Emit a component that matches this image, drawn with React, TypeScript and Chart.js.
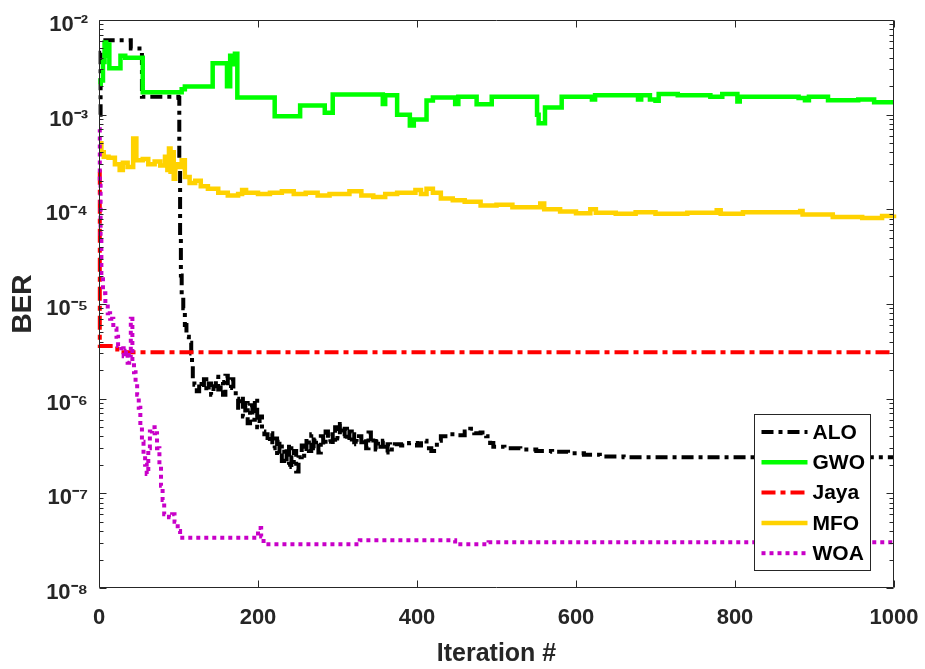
import React, { useEffect, useRef } from 'react';
import { Chart, registerables } from 'chart.js';

Chart.register(...registerables);

// ---------- data ----------
const seriesNames = ['ALO', 'GWO', 'Jaya', 'MFO', 'WOA'];
const xTickValues = [0, 200, 400, 600, 800, 1000];
const yDecadeValues = [1e-8, 1e-7, 1e-6, 1e-5, 1e-4, 1e-3, 1e-2];
const yMinorMultipliers = [2, 3, 4, 5, 6, 7, 8, 9];

const aloIter = [0, 2, 8, 40, 54, 100, 101, 102, 103, 104, 106, 108, 110, 113, 116, 117, 118,
  120, 123, 126, 129, 132, 135, 138, 141, 144, 147, 150, 153, 156, 159, 162, 166, 169,
  172, 175, 178, 181, 184, 187, 190, 193, 196, 199, 202, 205,
  208, 212, 215, 218, 221, 224, 227, 230, 233, 236, 239, 242, 245, 248, 251,
  255, 258, 261, 264, 267, 270, 273, 276, 279, 282, 285, 288, 291, 294, 297, 300, 303, 306, 309,
  312, 315, 318, 321, 324, 327, 330, 333, 336, 339, 342, 345, 348, 351, 354, 357, 360, 363, 366,
  372, 380, 390, 400, 405, 412, 418, 425, 430, 440, 450, 460, 467, 472, 480, 487, 492, 496,
  510, 530, 550, 570, 590, 610, 630, 660, 700, 750, 800, 850, 900, 1000];
const aloBer = [1.0e-3, 4.5e-3, 6.1e-3, 5.0e-3, 1.55e-3, 1.5e-3, 3e-4, 5e-5, 2e-5, 1.2e-5, 9e-6, 6e-6, 4.5e-6, 3.9e-6, 3.0e-6, 2.3e-6, 1.6e-6,
  1.4e-6, 1.2e-6, 1.5e-6, 1.3e-6, 1.6e-6, 1.2e-6, 1.45e-6, 1.1e-6, 1.35e-6, 1.7e-6, 1.25e-6, 1.5e-6, 1.1e-6, 1.75e-6, 1.3e-6, 1.6e-6, 1.2e-6,
  1.0e-6, 8e-7, 1.05e-6, 6.5e-7, 9e-7, 5.5e-7, 8.5e-7, 6e-7, 1.0e-6, 5e-7, 6.5e-7, 4.5e-7,
  4.2e-7, 3.5e-7, 4.3e-7, 3.0e-7, 3.8e-7, 2.5e-7, 3.5e-7, 2.2e-7, 3.0e-7, 2.0e-7, 3.3e-7, 1.9e-7, 2.8e-7, 1.7e-7, 2.4e-7,
  3.2e-7, 2.5e-7, 3.8e-7, 2.8e-7, 4.2e-7, 3.0e-7, 3.6e-7, 2.7e-7, 4.0e-7, 3.2e-7, 4.5e-7, 3.5e-7, 4.2e-7, 3.3e-7, 5.0e-7, 3.8e-7, 5.4e-7, 4.0e-7, 4.8e-7,
  3.6e-7, 4.5e-7, 3.3e-7, 4.2e-7, 3.5e-7, 4.0e-7, 3.2e-7, 3.8e-7, 3.0e-7, 4.4e-7, 3.4e-7, 3.9e-7, 2.9e-7, 3.5e-7, 3.1e-7, 3.6e-7, 2.7e-7, 3.3e-7, 2.9e-7,
  3.3e-7, 3.2e-7, 3.4e-7, 3.2e-7, 3.6e-7, 3.0e-7, 2.8e-7, 3.6e-7, 4.0e-7, 4.2e-7, 4.1e-7, 4.5e-7, 4.8e-7, 4.3e-7, 4.4e-7, 4.0e-7, 3.4e-7, 3.1e-7,
  3.0e-7, 2.9e-7, 2.8e-7, 2.75e-7, 2.65e-7, 2.55e-7, 2.45e-7, 2.4e-7, 2.4e-7, 2.4e-7, 2.4e-7, 2.35e-7, 2.4e-7, 2.4e-7];

const gwoIter = [0, 2, 5, 7, 9, 11, 13, 27, 33, 55, 104, 108, 143, 161, 165, 168, 171, 174, 221, 253, 284, 294,
  357, 360, 375, 391, 396, 412, 420, 448, 452, 475, 494, 551, 553, 561, 582, 620, 624, 678, 682, 693, 700, 704,
  728, 769, 784, 803, 806, 880, 888, 893, 917, 955, 975, 1000];
const gwoBer = [2.1e-3, 2.3e-3, 3.6e-3, 5.8e-3, 4.2e-3, 5.5e-3, 3.1e-3, 4.2e-3, 4.0e-3, 1.72e-3, 1.85e-3, 1.98e-3, 3.5e-3, 2.0e-3, 4.2e-3, 3.4e-3, 4.4e-3, 1.52e-3, 9.6e-4, 1.25e-3, 1.05e-3, 1.63e-3,
  1.3e-3, 1.6e-3, 1.0e-3, 7.7e-4, 8.9e-4, 1.41e-3, 1.52e-3, 1.3e-3, 1.55e-3, 1.29e-3, 1.55e-3, 1.0e-3, 8.1e-4, 1.19e-3, 1.55e-3, 1.45e-3, 1.6e-3, 1.45e-3, 1.6e-3, 1.45e-3, 1.4e-3, 1.65e-3,
  1.6e-3, 1.55e-3, 1.65e-3, 1.38e-3, 1.55e-3, 1.5e-3, 1.42e-3, 1.55e-3, 1.42e-3, 1.45e-3, 1.35e-3, 1.35e-3];

const jayaIter = [0, 1, 23, 1000];
const jayaBer = [2.5e-4, 3.6e-6, 3.1e-6, 3.1e-6];

const mfoIter = [0, 3, 6, 12, 20, 26, 30, 36, 43, 47, 55, 62, 70, 77, 83, 86, 88, 90, 92, 94, 96, 100, 104, 108, 114, 121, 128, 137,
  150, 162, 175, 180, 185, 200, 215, 230, 245, 260, 275, 290, 300, 315, 330, 345, 360, 375, 398, 405, 412, 420,
  430, 445, 460, 480, 500, 520, 555, 560, 580, 600, 618, 625, 650, 675, 700, 740, 777, 782, 810, 882, 885, 923, 960, 985, 1000];
const mfoBer = [5.0e-4, 4.0e-4, 3.6e-4, 3.5e-4, 3.0e-4, 2.6e-4, 3.1e-4, 2.8e-4, 5.6e-4, 3.3e-4, 3.4e-4, 3.0e-4, 3.2e-4, 2.9e-4, 3.6e-4, 2.6e-4, 4.4e-4, 2.5e-4, 4.0e-4, 2.1e-4, 3.0e-4, 2.8e-4, 3.3e-4, 2.2e-4, 1.9e-4, 2.0e-4, 1.75e-4, 1.65e-4,
  1.5e-4, 1.4e-4, 1.45e-4, 1.6e-4, 1.5e-4, 1.45e-4, 1.5e-4, 1.55e-4, 1.45e-4, 1.5e-4, 1.4e-4, 1.45e-4, 1.45e-4, 1.55e-4, 1.4e-4, 1.35e-4, 1.45e-4, 1.5e-4, 1.6e-4, 1.45e-4, 1.65e-4, 1.5e-4,
  1.3e-4, 1.25e-4, 1.2e-4, 1.1e-4, 1.12e-4, 1.05e-4, 1.15e-4, 1.0e-4, 9.5e-5, 9.1e-5, 1.0e-4, 9.2e-5, 9.0e-5, 9.3e-5, 9.0e-5, 9.2e-5, 9.8e-5, 9.0e-5, 9.3e-5, 9.6e-5, 8.8e-5, 8.3e-5, 8.1e-5, 8.5e-5, 8.8e-5];

const woaIter = [0, 1, 2, 3, 5, 8, 11, 14, 18, 22, 24, 28, 31, 34, 36, 38, 40, 42, 44, 46, 48, 50, 52, 54, 56, 58, 60,
  62, 64, 67, 70, 73, 76, 78, 80, 82, 88, 92, 95, 99, 102, 200, 204, 207, 328, 448, 490, 1000];
const woaBer = [7.0e-4, 2.0e-4, 5e-5, 2e-5, 1.3e-5, 1.0e-5, 8e-6, 7e-6, 5.5e-6, 4.5e-6, 3.6e-6, 3.4e-6, 2.8e-6, 3.2e-6, 2.4e-6, 2.9e-6, 7.0e-6, 2.5e-6, 1.9e-6, 1.5e-6, 1.1e-6, 8e-7, 5e-7, 3.5e-7, 2.5e-7, 2.0e-7, 1.6e-7,
  3.0e-7, 4.5e-7, 5.0e-7, 4.3e-7, 3.0e-7, 2.0e-7, 1.2e-7, 8.5e-8, 6.0e-8, 5.6e-8, 6e-8, 5e-8, 4.0e-8, 3.4e-8, 4.3e-8, 3.5e-8, 2.9e-8, 3.2e-8, 2.9e-8, 3.05e-8, 3.05e-8];

// ---------- styles ----------
const TEXT = '#262626';
const SANS = "'Liberation Sans', Arial, Helvetica, sans-serif";

const SUP: Record<string, string> = {
  '-': '\u207B', '0': '\u2070', '1': '\u00B9', '2': '\u00B2', '3': '\u00B3', '4': '\u2074',
  '5': '\u2075', '6': '\u2076', '7': '\u2077', '8': '\u2078', '9': '\u2079',
};
function decadeLabel(v: number): string {
  const e = Math.round(Math.log10(v));
  return '10' + String(e).split('').map((c) => SUP[c] || c).join('');
}

function pts(xs: number[], ys: number[]) {
  return xs.map((x, i) => ({ x, y: ys[i] }));
}

const framePlugin = {
  id: 'matlabFrame',
  afterDatasetsDraw(chart: any) {
    const { ctx, chartArea: a, scales } = chart;
    const xs = scales.x;
    const ys = scales.y;
    ctx.save();
    ctx.strokeStyle = TEXT;
    ctx.lineWidth = 1;
    const L = Math.round(a.left) + 0.5;
    const R = Math.round(a.right) - 0.5;
    const T = Math.round(a.top) + 0.5;
    const B = Math.round(a.bottom) - 0.5;
    ctx.beginPath();
    ctx.rect(L, T, R - L, B - T);
    ctx.stroke();
    ctx.beginPath();
    for (const v of xTickValues) {
      const px = Math.round(xs.getPixelForValue(v)) + 0.5;
      ctx.moveTo(px, B); ctx.lineTo(px, B - 7);
      ctx.moveTo(px, T); ctx.lineTo(px, T + 7);
    }
    for (const d of yDecadeValues) {
      const py = Math.round(ys.getPixelForValue(d)) + 0.5;
      ctx.moveTo(L, py); ctx.lineTo(L + 7, py);
      ctx.moveTo(R, py); ctx.lineTo(R - 7, py);
      if (d < yDecadeValues[yDecadeValues.length - 1]) {
        for (const m of yMinorMultipliers) {
          const pm = Math.round(ys.getPixelForValue(d * m)) + 0.5;
          ctx.moveTo(L, pm); ctx.lineTo(L + 4, pm);
          ctx.moveTo(R, pm); ctx.lineTo(R - 4, pm);
        }
      }
    }
    ctx.stroke();
    ctx.restore();
  },
};

const legendPlugin = {
  id: 'matlabLegend',
  afterDraw(chart: any) {
    const { ctx, chartArea: a } = chart;
    const ds = chart.data.datasets;
    const boxW = 116;
    const rowH = 30.3;
    const boxH = 156;
    const x0 = Math.round(a.right - 24 - boxW) + 0.5;
    const y0 = Math.round(a.bottom - 18 - boxH) + 0.5;
    ctx.save();
    ctx.fillStyle = '#ffffff';
    ctx.fillRect(x0, y0, boxW, boxH);
    ctx.strokeStyle = TEXT;
    ctx.lineWidth = 1;
    ctx.strokeRect(x0, y0, boxW, boxH);
    ctx.font = `bold 21px ${SANS}`;
    ctx.textBaseline = 'middle';
    ctx.textAlign = 'left';
    for (let i = 0; i < seriesNames.length; i++) {
      const d = ds[i];
      const cy = y0 + 17.5 + i * rowH;
      ctx.beginPath();
      ctx.setLineDash(d.borderDash || []);
      ctx.strokeStyle = d.borderColor;
      ctx.lineWidth = d.borderWidth;
      ctx.moveTo(x0 + 7, cy);
      ctx.lineTo(x0 + 53, cy);
      ctx.stroke();
      ctx.setLineDash([]);
      ctx.fillStyle = '#000000';
      ctx.fillText(seriesNames[i], x0 + 58, cy + 1);
    }
    ctx.restore();
  },
};

export default function App() {
  const ref = useRef<HTMLCanvasElement | null>(null);

  useEffect(() => {
    if (!ref.current) return;
    const common = { pointRadius: 0, pointHoverRadius: 0, stepped: true, fill: false, clip: 6 };
    const chart = new Chart(ref.current, {
      type: 'line',
      data: {
        datasets: [
          { ...common, label: seriesNames[0], data: pts(aloIter, aloBer), borderColor: '#000000', borderWidth: 4, borderDash: [12, 5, 4, 5], order: 4 },
          { ...common, label: seriesNames[1], data: pts(gwoIter, gwoBer), borderColor: '#00ff00', borderWidth: 4.5, borderDash: [], order: 3 },
          { ...common, label: seriesNames[2], data: pts(jayaIter, jayaBer), borderColor: '#ff0000', borderWidth: 4, borderDash: [14, 5, 5, 5], order: 2 },
          { ...common, label: seriesNames[3], data: pts(mfoIter, mfoBer), borderColor: '#ffd200', borderWidth: 4.5, borderDash: [], order: 1 },
          { ...common, label: seriesNames[4], data: pts(woaIter, woaBer), borderColor: '#c800c8', borderWidth: 4, borderDash: [4, 4], order: 0 },
        ] as any,
      },
      options: {
        animation: false,
        responsive: false,
        devicePixelRatio: 1,
        events: [],
        layout: { padding: { left: 0, top: 20, right: 31, bottom: 0 } },
        plugins: { legend: { display: false }, tooltip: { enabled: false }, title: { display: false } },
        scales: {
          x: {
            type: 'linear',
            min: 0,
            max: 1000,
            grid: { display: false, drawTicks: false },
            border: { display: false },
            afterBuildTicks: (s: any) => { s.ticks = xTickValues.map((v) => ({ value: v })); },
            afterFit: (s: any) => { s.height = 81; s.paddingLeft = 0; s.paddingRight = 0; },
            ticks: {
              autoSkip: false,
              maxRotation: 0,
              padding: 17,
              color: TEXT,
              font: { family: SANS, size: 22, weight: 'bold' },
              callback: (v: any) => String(v),
            },
            title: {
              display: true,
              text: 'Iteration #',
              color: TEXT,
              padding: { top: 0, bottom: 0 },
              font: { family: SANS, size: 25, weight: 'bold', lineHeight: 1.2 },
            },
          },
          y: {
            type: 'logarithmic',
            min: 1e-8,
            max: 1e-2,
            grid: { display: false, drawTicks: false },
            border: { display: false },
            afterBuildTicks: (s: any) => { s.ticks = yDecadeValues.map((v) => ({ value: v, major: true })); },
            afterFit: (s: any) => { s.width = 99; s.paddingTop = 0; s.paddingBottom = 0; },
            ticks: {
              autoSkip: false,
              padding: 11,
              labelOffset: 5,
              color: TEXT,
              font: { family: SANS, size: 22, weight: 'bold' },
              callback: (v: any) => decadeLabel(Number(v)),
            },
            title: {
              display: true,
              text: 'BER',
              color: TEXT,
              padding: { top: 6, bottom: 0 },
              font: { family: SANS, size: 28, weight: 'bold', lineHeight: 1.2 },
            },
          },
        },
      } as any,
      plugins: [framePlugin, legendPlugin],
    });
    return () => chart.destroy();
  }, []);

  return (
    <div style={{ position: 'fixed', left: 0, top: 0, width: 925, height: 669, background: '#ffffff' }}>
      <canvas ref={ref} width={925} height={669} style={{ display: 'block' }} />
    </div>
  );
}
